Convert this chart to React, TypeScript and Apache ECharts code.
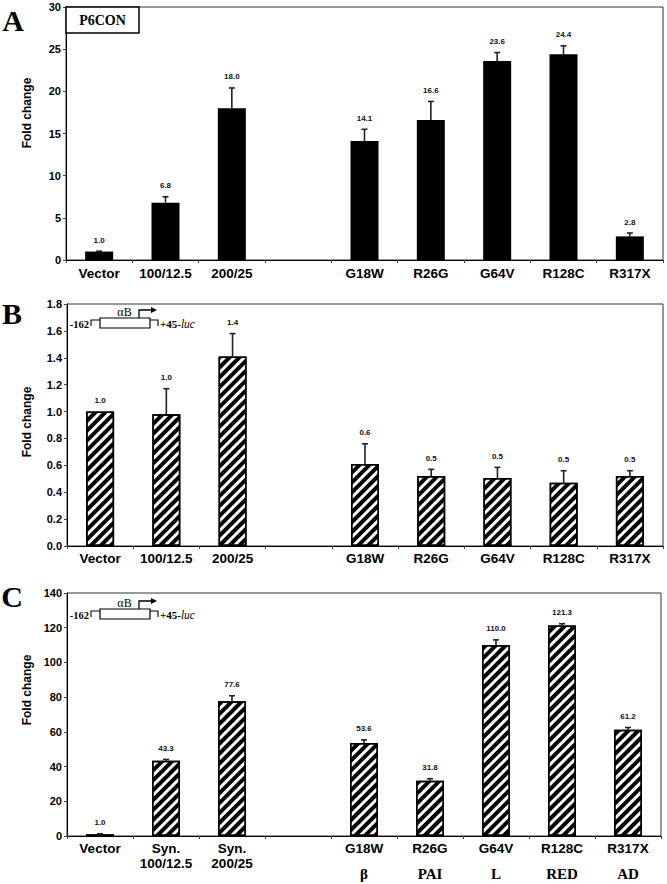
import React, { useEffect, useRef } from 'react';
import * as echarts from 'echarts';

// ---- data ----
const categoriesAB = ['Vector', '100/12.5', '200/25', '', 'G18W', 'R26G', 'G64V', 'R128C', 'R317X'];
const categoriesC = ['Vector', 'Syn.\n100/12.5', 'Syn.\n200/25', '', 'G18W', 'R26G', 'G64V', 'R128C', 'R317X'];
const groupsC = ['', '', '', '', 'β', 'PAI', 'L', 'RED', 'AD'];

const valuesA = [1.0, 6.8, 18.0, null, 14.1, 16.6, 23.6, 24.4, 2.8];
const errorsA = [0.05, 0.7, 2.4, null, 1.4, 2.2, 1.0, 1.0, 0.4];
const valuesB = [1.0, 0.98, 1.41, null, 0.61, 0.52, 0.505, 0.47, 0.52];
const errorsB = [0, 0.19, 0.17, null, 0.15, 0.05, 0.08, 0.09, 0.04];
const valuesC = [1.0, 43.3, 77.6, null, 53.6, 31.8, 110.0, 121.3, 61.2];
const errorsC = [0.3, 0.8, 3.2, null, 1.8, 1.2, 3.0, 1.0, 1.3];

const yRangeA = [0, 30, 5];
const yRangeB = [0, 1.8, 0.2];
const yRangeC = [0, 140, 20];

const SANS = '"Liberation Sans", Arial, Helvetica, sans-serif';
const SERIF = '"Liberation Serif", "Times New Roman", Times, serif';

const hatch = {
  symbol: 'rect',
  symbolSize: 1,
  dashArrayX: [1, 0],
  dashArrayY: [3.6, 3],
  rotation: -Math.PI / 4,
  color: '#000',
  backgroundColor: '#fff',
};

function errData(values: (number | null)[], errs: (number | null)[]) {
  const out: number[][] = [];
  values.forEach((v, i) => {
    if (v != null) out.push([i, v, errs[i] ?? 0]);
  });
  return out;
}

function renderErr(params: any, api: any) {
  const idx = api.value(0);
  const v = api.value(1);
  const e = api.value(2);
  const base = api.coord([idx, v]);
  const top = api.coord([idx, v + e]);
  const children: any[] = [];
  if (e > 0) {
    children.push({
      type: 'line',
      shape: { x1: base[0], y1: base[1], x2: top[0], y2: top[1] },
      style: { stroke: '#222', lineWidth: 1.6 },
    });
    children.push({
      type: 'line',
      shape: { x1: top[0] - 3, y1: top[1], x2: top[0] + 3, y2: top[1] },
      style: { stroke: '#222', lineWidth: 1.6 },
    });
  }
  children.push({
    type: 'text',
    x: top[0],
    y: top[1] - 7,
    style: {
      text: v.toFixed(1),
      align: 'center',
      verticalAlign: 'bottom',
      textAlign: 'center',
      textVerticalAlign: 'bottom',
      font: `bold 8px ${SANS}`,
      fill: '#111',
    },
  });
  return { type: 'group', children };
}

function inset(dy: number) {
  const st = { stroke: '#000', lineWidth: 1.1, fill: 'none' };
  return [
    {
      type: 'text', x: 89, y: 324 + dy,
      style: { text: '-162', font: `bold 10.5px ${SERIF}`, fill: '#000', align: 'right', verticalAlign: 'middle', textAlign: 'right', textVerticalAlign: 'middle' },
    },
    { type: 'polyline', shape: { points: [[91, 326 + dy], [91, 320 + dy], [100, 320 + dy]] }, style: st },
    { type: 'rect', shape: { x: 100, y: 318 + dy, width: 50, height: 10 }, style: { stroke: '#000', lineWidth: 1.2, fill: '#fff' } },
    { type: 'polyline', shape: { points: [[150, 320 + dy], [158, 320 + dy], [158, 326 + dy]] }, style: st },
    {
      type: 'text', x: 160, y: 324 + dy,
      style: {
        text: '{n|+45-}{i|luc}', fill: '#000', align: 'left', verticalAlign: 'middle', textAlign: 'left', textVerticalAlign: 'middle',
        rich: { n: { font: `bold 11px ${SERIF}`, fill: '#000' }, i: { font: `italic 11.5px ${SERIF}`, fill: '#000' } },
      },
    },
    {
      type: 'text', x: 124.5, y: 312 + dy,
      style: { text: 'αB', font: `12px ${SERIF}`, fill: '#000', align: 'center', verticalAlign: 'middle', textAlign: 'center', textVerticalAlign: 'middle' },
    },
    { type: 'polyline', shape: { points: [[139, 318 + dy], [139, 310 + dy], [152, 310 + dy]] }, style: { stroke: '#000', lineWidth: 1.3, fill: 'none' } },
    { type: 'polygon', shape: { points: [[151, 307 + dy], [157, 310 + dy], [151, 313 + dy]] }, style: { fill: '#000' } },
  ];
}

function textEl(text: string, x: number, y: number, font: string, rotation = 0) {
  return {
    type: 'text', x, y, rotation,
    style: { text, font, fill: '#000', align: 'center', verticalAlign: 'middle', textAlign: 'center', textVerticalAlign: 'middle' },
  };
}

export default function App() {
  const ref = useRef<HTMLDivElement>(null);
  useEffect(() => {
    if (!ref.current) return;
    const chart = echarts.init(ref.current, undefined, { renderer: 'svg' });

    const grids = [
      { left: 66, top: 7, right: 4, height: 253 },
      { left: 67, top: 304, right: 4, height: 242 },
      { left: 67, top: 593, right: 6, height: 243 },
    ].map((g) => ({ ...g, show: true, borderColor: '#333', borderWidth: 1, backgroundColor: '#fff' }));

    const xBase = (gridIndex: number, data: string[], margin: number) => ({
      type: 'category',
      gridIndex,
      data,
      axisLine: { show: true, lineStyle: { color: '#000', width: 1 } },
      axisTick: { show: true, length: 3, lineStyle: { color: '#444' } },
      axisLabel: { interval: 0, margin, color: '#000', fontWeight: 'bold', fontSize: 13.5, fontFamily: SANS },
    });

    const yBase = (gridIndex: number, r: number[], fmt: (v: number) => string) => ({
      type: 'value',
      gridIndex,
      min: r[0],
      max: r[1],
      interval: r[2],
      splitLine: { show: false },
      axisLine: { show: true, lineStyle: { color: '#000', width: 1 } },
      axisTick: { show: true, length: 3, lineStyle: { color: '#444' } },
      axisLabel: { margin: 5, color: '#000', fontWeight: 'bold', fontSize: 11, fontFamily: SANS, formatter: fmt },
    });

    const xC: any = xBase(2, categoriesC, 5);
    xC.axisLabel.formatter = (v: string, i: number) => {
      const lines = v.split('\n').map((l) => `{a|${l}}`).join('\n');
      return groupsC[i] ? `${lines}\n{g|${groupsC[i]}}` : lines;
    };
    xC.axisLabel.rich = {
      a: { fontSize: 13.5, fontWeight: 'bold', fontFamily: SANS, color: '#000', lineHeight: 15 },
      g: { fontSize: 15, fontWeight: 'bold', fontFamily: SERIF, color: '#000', lineHeight: 35 },
    };

    const hatchedStyle = { color: '#fff', borderColor: '#000', borderWidth: 1.5, decal: hatch };

    const option: any = {
      animation: false,
      backgroundColor: '#fff',
      grid: grids,
      xAxis: [xBase(0, categoriesAB, 6), xBase(1, categoriesAB, 5), xC],
      yAxis: [
        yBase(0, yRangeA, (v: number) => String(v)),
        yBase(1, yRangeB, (v: number) => v.toFixed(1)),
        yBase(2, yRangeC, (v: number) => String(v)),
      ],
      series: [
        { type: 'bar', xAxisIndex: 0, yAxisIndex: 0, data: valuesA.map((v) => (v == null ? '-' : v)), barWidth: 28, itemStyle: { color: '#000' } },
        { type: 'bar', xAxisIndex: 1, yAxisIndex: 1, data: valuesB.map((v) => (v == null ? '-' : v)), barWidth: 28, itemStyle: hatchedStyle },
        { type: 'bar', xAxisIndex: 2, yAxisIndex: 2, data: valuesC.map((v) => (v == null ? '-' : v)), barWidth: 28, itemStyle: hatchedStyle },
        { type: 'custom', xAxisIndex: 0, yAxisIndex: 0, data: errData(valuesA, errorsA), renderItem: renderErr, encode: { x: 0, y: 1 }, z: 5 },
        { type: 'custom', xAxisIndex: 1, yAxisIndex: 1, data: errData(valuesB, errorsB), renderItem: renderErr, encode: { x: 0, y: 1 }, z: 5 },
        { type: 'custom', xAxisIndex: 2, yAxisIndex: 2, data: errData(valuesC, errorsC), renderItem: renderErr, encode: { x: 0, y: 1 }, z: 5 },
      ],
      graphic: [
        textEl('A', 13, 20, `bold 30px ${SERIF}`),
        textEl('B', 12, 313, `bold 30px ${SERIF}`),
        textEl('C', 12, 596, `bold 30px ${SERIF}`),
        textEl('Fold change', 27, 113, `bold 12px ${SANS}`, Math.PI / 2),
        textEl('Fold change', 27, 422, `bold 12px ${SANS}`, Math.PI / 2),
        textEl('Fold change', 27, 690, `bold 12px ${SANS}`, Math.PI / 2),
        { type: 'rect', shape: { x: 66, y: 7, width: 73, height: 26 }, style: { stroke: '#000', lineWidth: 1.5, fill: '#fff' }, z: 10 },
        { ...textEl('P6CON', 102.5, 20.5, `bold 14px ${SERIF}`), z: 11 },
        ...inset(0),
        ...inset(291),
      ],
    };
    chart.setOption(option);
    return () => chart.dispose();
  }, []);
  return <div ref={ref} style={{ position: 'absolute', left: 0, top: 0, width: 667, height: 884 }} />;
}
